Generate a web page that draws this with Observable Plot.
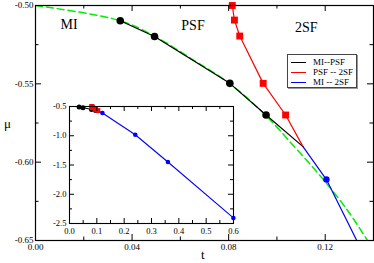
<!DOCTYPE html>
<html><head><meta charset="utf-8">
<script src="https://cdn.jsdelivr.net/npm/d3@7"></script>
<script src="https://cdn.jsdelivr.net/npm/@observablehq/plot@0.6"></script>
<style>
body{margin:0;background:#fff;}
#wrap{position:relative;width:374px;height:263px;font-family:"Liberation Serif","DejaVu Serif",serif;color:#000;overflow:hidden;}
#main{position:absolute;left:0;top:0;}
#inset{position:absolute;left:49px;top:101px;}
#legend{position:absolute;left:287px;top:54px;width:68px;height:32px;border:1px solid #444;box-shadow:1px 1px 0 #999;background:#fff;font-size:9px;}
#legend .row{position:absolute;left:0;height:10px;line-height:10px;white-space:nowrap;}
#legend .sw{position:absolute;left:3px;top:5px;width:15px;height:0;border-top:1.3px solid;}
#legend .lab{position:absolute;left:25px;top:0;}
.axlab{position:absolute;font-size:13px;}
</style></head><body><div id="wrap"><div id="main"></div><div id="inset"></div><div id="legend"></div>
<div class="axlab" style="left:4px;top:116px;">μ</div>
<div class="axlab" style="left:201px;top:247px;">t</div>
</div>
<script>
// ---- data ----
const triplePoint = {t: 0.1108, mu: -0.5901};
const miPsfT  = [0.0351, 0.0493, 0.0805, 0.0955];
const miPsfMu = [-0.5097, -0.5198, -0.5497, -0.5699];
const psf2sfT  = [0.0815, 0.0824, 0.0846, 0.0943, 0.1036];
const psf2sfMu = [-0.5000, -0.5093, -0.5195, -0.5497, -0.5699];
const mi2sfT  = [0.1205, 0.2406, 0.3600, 0.5996];
const mi2sfMu = [-0.6111, -0.9830, -1.4490, -2.4050];
const fitT  = [0, 0.0351, 0.0493, 0.0646, 0.0804, 0.0946, 0.1075, 0.1188, 0.1292, 0.1375, 0.1408];
const fitMu = [-0.5000, -0.5097, -0.5196, -0.5340, -0.5499, -0.5690, -0.5906, -0.6103, -0.6307, -0.6499, -0.6575];
const phaseLabels = ["MI", "PSF", "2SF"];
const phaseT  = [0.0104, 0.0604, 0.1075];
const phaseMu = [-0.5123, -0.5129, -0.5142];
const seriesNames = ["MI--PSF", "PSF -- 2SF", "MI -- 2SF"];
const seriesColors = ["#000000", "#ff0000", "#0000ff"];
const mainXMajor = [0, 0.04, 0.08, 0.12];
const mainXMinor = [0.02, 0.06, 0.10];
const mainYMajor = [-0.65, -0.60, -0.55, -0.50];
const mainYMinor = [-0.625, -0.575, -0.525];
const insetXMajor = [0, 0.1, 0.2, 0.3, 0.4, 0.5, 0.6];
const insetXMinor = [0.05, 0.15, 0.25, 0.35, 0.45, 0.55];
const insetYMajor = [-2.5, -2.0, -1.5, -1.0, -0.5];
const insetYMinor = [-2.25, -1.75, -1.25, -0.75];

// ---- tables ----
const pts = (T, M) => T.map((t, i) => ({t, mu: M[i]}));
const miPsf = pts(miPsfT, miPsfMu);
const psf2sf = pts(psf2sfT, psf2sfMu);
const mi2sf = pts(mi2sfT, mi2sfMu);
const fit = pts(fitT, fitMu);
const miPsfLine = [...miPsf, triplePoint];
const psf2sfLine = [...psf2sf, triplePoint];
const mi2sfLine = [triplePoint, ...mi2sf];
const labels = phaseLabels.map((s, i) => ({s, t: phaseT[i], mu: phaseMu[i]}));

function frameTicks(xMaj, xMin, yMaj, yMin, pw, ph, big, small) {
  const m = [];
  const tx = (v, len) => [
    Plot.tickX(v, {x: d => d, insetTop: ph - len, stroke: "#000"}),
    Plot.tickX(v, {x: d => d, insetBottom: ph - len, stroke: "#000"})];
  const ty = (v, len) => [
    Plot.tickY(v, {y: d => d, insetRight: pw - len, stroke: "#000"}),
    Plot.tickY(v, {y: d => d, insetLeft: pw - len, stroke: "#000"})];
  return [...tx(xMaj, big), ...tx(xMin, small), ...ty(yMaj, big), ...ty(yMin, small)];
}

// ---- main plot ----
const W = 374, H = 263, mL = 35, mR = 1, mT = 5, mB = 23;
const pw = W - mL - mR, ph = H - mT - mB;
const main = Plot.plot({
  width: W, height: H,
  marginLeft: mL, marginRight: mR, marginTop: mT, marginBottom: mB,
  style: {fontFamily: "'Liberation Serif', 'DejaVu Serif', serif", fontSize: "9px", background: "transparent", overflow: "visible"},
  x: {domain: [0, 0.14]},
  y: {domain: [-0.65, -0.50]},
  marks: [
    Plot.line(fit, {x: "t", y: "mu", stroke: "#00ee00", strokeWidth: 1.5, strokeDasharray: "7,4", curve: "catmull-rom", clip: true}),
    Plot.line(miPsfLine, {x: "t", y: "mu", stroke: seriesColors[0], strokeWidth: 1.2, clip: true}),
    Plot.line(psf2sfLine, {x: "t", y: "mu", stroke: seriesColors[1], strokeWidth: 1.2, clip: true}),
    Plot.line(mi2sfLine, {x: "t", y: "mu", stroke: seriesColors[2], strokeWidth: 1.2, clip: true}),
    Plot.dot(miPsf, {x: "t", y: "mu", r: 3.8, fill: seriesColors[0]}),
    Plot.dot(psf2sf, {x: "t", y: "mu", r: 3.9, symbol: "square", fill: seriesColors[1]}),
    Plot.dot(mi2sf, {x: "t", y: "mu", r: 3.2, fill: seriesColors[2], clip: true}),
    Plot.text(labels, {x: "t", y: "mu", text: "s", textAnchor: "start", fontSize: 14}),
    ...frameTicks(mainXMajor, mainXMinor, mainYMajor, mainYMinor, pw, ph, 6, 3.5),
    Plot.frame({stroke: "#000", strokeWidth: 1.2}),
    Plot.axisX({ticks: mainXMajor, tickSize: 0, tickPadding: 3, tickFormat: d => d.toFixed(2), label: null}),
    Plot.axisY({ticks: mainYMajor, tickSize: 0, tickPadding: 2, tickFormat: d => d.toFixed(2), label: null})
  ]
});
document.getElementById("main").append(main);

// ---- inset ----
const iL = 20, iR = 6, iT = 5, iB = 12, ipw = 164, iph = 117;
const inset = Plot.plot({
  width: iL + ipw + iR, height: iT + iph + iB,
  marginLeft: iL, marginRight: iR, marginTop: iT, marginBottom: iB,
  style: {fontFamily: "'Liberation Serif', 'DejaVu Serif', serif", fontSize: "8.5px", background: "transparent", overflow: "visible"},
  x: {domain: [0, 0.6]},
  y: {domain: [-2.5, -0.5]},
  marks: [
    Plot.frame({fill: "#fff"}),
    Plot.line(miPsfLine, {x: "t", y: "mu", stroke: seriesColors[0], strokeWidth: 1}),
    Plot.line(psf2sfLine, {x: "t", y: "mu", stroke: seriesColors[1], strokeWidth: 1}),
    Plot.line(mi2sfLine, {x: "t", y: "mu", stroke: seriesColors[2], strokeWidth: 1.1}),
    Plot.dot(miPsf, {x: "t", y: "mu", r: 2.5, fill: seriesColors[0]}),
    Plot.dot(psf2sf, {x: "t", y: "mu", r: 2.8, symbol: "square", fill: seriesColors[1]}),
    Plot.dot(mi2sf, {x: "t", y: "mu", r: 2.3, fill: seriesColors[2]}),
    ...frameTicks(insetXMajor, insetXMinor, insetYMajor, insetYMinor, ipw, iph, 5, 3),
    Plot.frame({stroke: "#000", strokeWidth: 1.1}),
    Plot.axisX({ticks: insetXMajor, tickSize: 0, tickPadding: 4, tickFormat: d => d.toFixed(1), label: null}),
    Plot.axisY({ticks: insetYMajor, tickSize: 0, tickPadding: 3, tickFormat: d => d.toFixed(1), label: null})
  ]
});
document.getElementById("inset").append(inset);

// ---- legend ----
const lg = document.getElementById("legend");
seriesNames.forEach((name, i) => {
  const row = document.createElement("div");
  row.className = "row";
  row.style.top = (2 + i * 10) + "px";
  row.innerHTML = `<span class="sw" style="border-color:${seriesColors[i]}"></span><span class="lab">${name}</span>`;
  lg.append(row);
});
</script>
</body></html>
